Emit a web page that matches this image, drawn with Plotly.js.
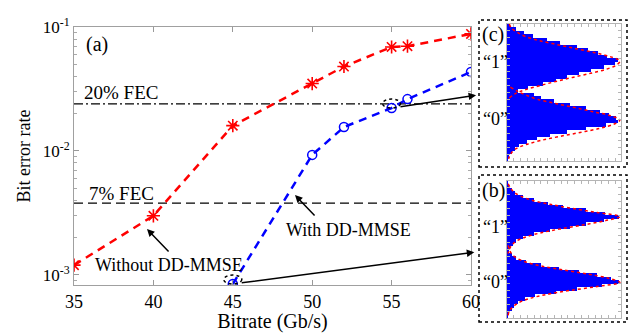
<!DOCTYPE html>
<html>
<head>
<meta charset="utf-8">
<script src="https://cdn.plot.ly/plotly-3.0.1.min.js"></script>
<style>html,body{margin:0;padding:0;background:#fff;}#chart{width:630px;height:333px;}</style>
</head>
<body>
<div id="chart"></div>
<script>
// ---- Main panel (a) data ----
const bitrateWithout = [35, 40, 45, 50, 52, 55, 56, 60];
const berWithout = [1.2e-3, 3.0e-3, 1.6e-2, 3.5e-2, 4.8e-2, 6.9e-2, 7.0e-2, 8.8e-2];
const bitrateWith = [45, 50, 52, 55, 56, 60];
const berWith = [8.45e-4, 9.3e-3, 1.56e-2, 2.22e-2, 2.62e-2, 4.34e-2];
const fecSpan = [35, 60];
const fec20 = 2.4e-2;
const fec7 = 3.8e-3;
const xTicks = [35, 40, 45, 50, 55, 60];
const yTickVals = [1e-3, 1e-2, 1e-1];
const yTickText = ['10<sup>-3</sup>', '10<sup>-2</sup>', '10<sup>-1</sup>'];

// ---- Inset histograms: bin centres (signal level, bottom to top) ----
const binCenters = [1.25, 3.75, 6.25, 8.75, 11.25, 13.75, 16.25, 18.75, 21.25, 23.75,
  26.25, 28.75, 31.25, 33.75, 36.25, 38.75, 41.25, 43.75, 46.25, 48.75,
  51.25, 53.75, 56.25, 58.75, 61.25, 63.75, 66.25, 68.75, 71.25, 73.75,
  76.25, 78.75, 81.25, 83.75, 86.25, 88.75, 91.25, 93.75, 96.25, 98.75];
// (c) 55 Gb/s with DD-MMSE
const countsC = [1, 2, 4, 7, 11, 18, 27, 38, 53, 70, 88, 98, 97, 90, 82, 70, 56, 42, 30, 24,
  10, 19, 32, 43, 53, 64, 74, 86, 96, 98, 89, 81, 72, 62, 47, 35, 23, 15, 8, 3];
const fitC1Level = [100, 97, 94, 91, 88, 85, 82, 79, 76, 73, 70, 67, 64, 61, 58, 55, 52, 49, 46];
const fitC1Count = [2, 4, 9, 16, 28, 44, 61, 78, 92, 100, 97, 88, 74, 58, 43, 29, 16, 7, 2];
const fitC0Level = [54, 51, 48, 45, 42, 39, 36, 33, 30, 27, 24, 21, 18, 15, 12, 9, 6, 3, 0];
const fitC0Count = [3, 9, 17, 27, 43, 60, 76, 92, 100, 95, 83, 66, 47, 30, 17, 8, 4, 2, 1];
// (b) 45 Gb/s with DD-MMSE
const countsB = [1, 2, 4, 6, 10, 16, 25, 43, 62, 84, 99, 92, 80, 64, 46, 30, 17, 8, 4, 2,
  3, 5, 8, 14, 24, 38, 56, 70, 86, 99, 87, 70, 50, 36, 24, 14, 7, 4, 2, 1];
const fitB1Level = [98, 95, 92, 89, 86, 83, 80, 77, 74, 71, 68, 65, 62, 59, 56, 53, 50, 47];
const fitB1Count = [1, 3, 6, 12, 22, 38, 58, 80, 100, 87, 68, 47, 29, 16, 8, 4, 2, 1];
const fitB0Level = [53, 50, 47, 44, 41, 38, 35, 32, 29, 26, 23, 20, 17, 14, 11, 8, 5, 2];
const fitB0Count = [1, 2, 4, 8, 16, 30, 50, 72, 90, 100, 80, 55, 34, 19, 10, 5, 2, 1];

const FONT = 'Liberation Serif, Times New Roman, serif';
const RED = '#ff0000', BLUE = '#0000ff';
const W = 630, H = 333;
const px = v => v / W, py = v => 1 - v / H;

const traces = [
  {x: fecSpan, y: [fec20, fec20], mode: 'lines', xaxis: 'x', yaxis: 'y',
   line: {color: '#000', width: 1.4, dash: '9px,3px,2px,3px'}, hoverinfo: 'skip'},
  {x: fecSpan, y: [fec7, fec7], mode: 'lines', xaxis: 'x', yaxis: 'y',
   line: {color: '#000', width: 1.4, dash: '9px,5px'}, hoverinfo: 'skip'},
  {x: bitrateWithout, y: berWithout, mode: 'lines+markers', xaxis: 'x', yaxis: 'y',
   line: {color: RED, width: 2.5, dash: '8px,6px'},
   marker: {symbol: 'asterisk-open', size: 11, color: RED, line: {color: RED, width: 1.6}}},
  {x: bitrateWith, y: berWith, mode: 'lines+markers', xaxis: 'x', yaxis: 'y',
   line: {color: BLUE, width: 2.5, dash: '8px,6px'},
   marker: {symbol: 'circle-open', size: 9, color: BLUE, line: {color: BLUE, width: 1.5}}},
  // inset (c)
  {type: 'bar', orientation: 'h', x: countsC, y: binCenters, width: 2.5, xaxis: 'x2', yaxis: 'y2',
   marker: {color: BLUE, line: {width: 0}}},
  {x: fitC1Count, y: fitC1Level, mode: 'lines', xaxis: 'x2', yaxis: 'y2',
   line: {color: RED, width: 1.5, dash: 'dot', shape: 'spline'}},
  {x: fitC0Count, y: fitC0Level, mode: 'lines', xaxis: 'x2', yaxis: 'y2',
   line: {color: RED, width: 1.5, dash: 'dot', shape: 'spline'}},
  // inset (b)
  {type: 'bar', orientation: 'h', x: countsB, y: binCenters, width: 2.5, xaxis: 'x3', yaxis: 'y3',
   marker: {color: BLUE, line: {width: 0}}},
  {x: fitB1Count, y: fitB1Level, mode: 'lines', xaxis: 'x3', yaxis: 'y3',
   line: {color: RED, width: 1.5, dash: 'dot', shape: 'spline'}},
  {x: fitB0Count, y: fitB0Level, mode: 'lines', xaxis: 'x3', yaxis: 'y3',
   line: {color: RED, width: 1.5, dash: 'dot', shape: 'spline'}}
];

function insetX(anchor) {
  return {domain: [px(507), px(621)], anchor: anchor, range: [0, 101], showgrid: false, zeroline: false,
    showticklabels: false, ticks: 'inside', ticklen: 3, dtick: 6, tickcolor: '#b5b5b5',
    showline: true, linecolor: '#b5b5b5', linewidth: 1, mirror: 'ticks', fixedrange: true};
}
function insetY(anchor, top, bottom) {
  return {domain: [py(bottom), py(top)], anchor: anchor, range: [0, 100], showgrid: false, zeroline: false,
    showticklabels: false, ticks: 'inside', ticklen: 3, dtick: 5, tickcolor: '#b5b5b5',
    showline: true, linecolor: '#b5b5b5', linewidth: 1, mirror: 'ticks', fixedrange: true};
}

const txt = (x, y, text, size) => ({xref: 'paper', yref: 'paper', x: px(x), y: py(y), text: text,
  showarrow: false, xanchor: 'center', yanchor: 'middle', font: {family: FONT, size: size, color: '#000'}});
const arrowPaper = (hx, hy, tx, ty) => ({xref: 'paper', yref: 'paper', x: px(hx), y: py(hy),
  ax: tx - hx, ay: ty - hy, text: '', showarrow: true, arrowhead: 2, arrowsize: 1, arrowwidth: 1.5, arrowcolor: '#000'});
const arrowFromPoint = (xv, yv, dx, dy) => ({xref: 'x', yref: 'y', x: xv, y: Math.log10(yv),
  ax: dx, ay: dy, text: '', showarrow: true, arrowside: 'start', arrowhead: 2, startarrowhead: 2,
  startarrowsize: 1, arrowsize: 1, arrowwidth: 1.5, arrowcolor: '#000', standoff: 9});
const dottedCircle = (xv, yv) => ({type: 'circle', xref: 'x', yref: 'y', xsizemode: 'pixel', ysizemode: 'pixel',
  xanchor: xv, yanchor: yv, x0: -9, x1: 9, y0: -9, y1: 9, layer: 'above',
  line: {color: '#000', width: 1.5, dash: 'dot'}});

const layout = {
  width: W, height: H, margin: {l: 0, r: 0, t: 0, b: 0}, paper_bgcolor: '#fff', plot_bgcolor: '#fff',
  showlegend: false, bargap: 0,
  font: {family: FONT, color: '#000'},
  xaxis: {domain: [px(74), px(471)], anchor: 'y', range: [35, 60], tickvals: xTicks,
    ticks: 'inside', ticklen: 5, tickcolor: '#999', showline: true, linecolor: '#a0a0a0', mirror: 'ticks',
    showgrid: false, zeroline: false, tickfont: {family: FONT, size: 18, color: '#000'},
    title: {text: 'Bitrate (Gb/s)', font: {family: FONT, size: 20, color: '#000'}, standoff: 4}},
  yaxis: {domain: [py(285), py(27)], anchor: 'x', type: 'log', range: [-3.081, -1],
    tickvals: yTickVals, ticktext: yTickText,
    ticks: 'inside', ticklen: 5, tickcolor: '#999', showline: true, linecolor: '#a0a0a0', mirror: 'ticks',
    minor: {ticks: 'inside', ticklen: 3, tickcolor: '#aaa', dtick: 'D1', showgrid: false},
    showgrid: false, zeroline: false, tickfont: {family: FONT, size: 17, color: '#000'},
    title: {text: 'Bit error rate', font: {family: FONT, size: 18, color: '#000'}, standoff: 7}},
  xaxis2: insetX('y2'),
  yaxis2: insetY('x2', 24, 161),
  xaxis3: insetX('y3'),
  yaxis3: insetY('x3', 181, 318),
  shapes: [
    {type: 'rect', xref: 'paper', yref: 'paper', x0: px(479), x1: px(627), y0: py(167), y1: py(20),
     line: {color: '#000', width: 1.5, dash: 'dot'}},
    {type: 'rect', xref: 'paper', yref: 'paper', x0: px(479), x1: px(627), y0: py(322), y1: py(175),
     line: {color: '#000', width: 1.5, dash: 'dot'}},
    dottedCircle(bitrateWith[0], berWith[0]),
    dottedCircle(bitrateWith[3], berWith[3])
  ],
  annotations: [
    txt(97, 44, '(a)', 20),
    txt(121, 92, '20% FEC', 19),
    txt(121, 193, '7% FEC', 19),
    txt(169, 265, 'Without DD-MMSE', 18),
    txt(348, 230, 'With DD-MMSE', 18),
    txt(493, 35, '(c)', 20),
    txt(493, 190, '(b)', 20),
    txt(495, 62, '\u201C1\u201D', 18),
    txt(495, 119, '\u201C0\u201D', 18),
    txt(495, 227, '\u201C1\u201D', 18),
    txt(495, 282, '\u201C0\u201D', 18),
    arrowPaper(147, 229, 170, 253),
    arrowPaper(295, 195, 316, 217),
    arrowFromPoint(bitrateWith[0], berWith[0], 243, -32),
    arrowFromPoint(bitrateWith[3], berWith[3], 86, -13)
  ]
};

Plotly.newPlot('chart', traces, layout, {staticPlot: true, displayModeBar: false});
</script>
</body>
</html>
